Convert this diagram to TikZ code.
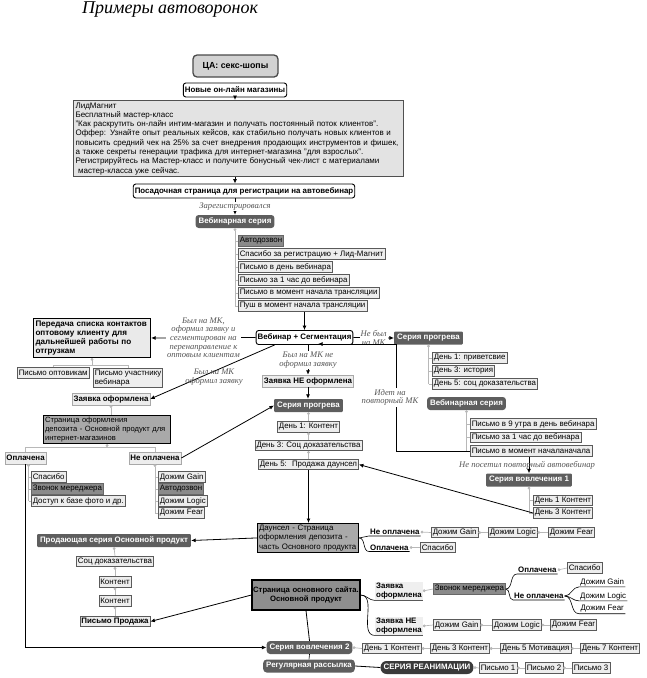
\documentclass[tikz,border=0pt]{standalone}
\usepackage{fontspec}
\setmainfont{Liberation Sans}
\newfontfamily\serifface{Liberation Serif}
\usetikzlibrary{arrows.meta, calc}
\usetikzlibrary{positioning}
\usepackage{xcolor}

\definecolor{darkfill}{HTML}{5E5E5E}
\definecolor{deepfill}{HTML}{3A3A3A}
\definecolor{callfill}{HTML}{8A8A8A}
\definecolor{itemfill}{HTML}{EDEDED}
\definecolor{itemline}{HTML}{5A5A5A}
\definecolor{tagline}{HTML}{A8A8A8}
\definecolor{tagfill}{HTML}{EFEFEF}
\definecolor{pagefill}{HTML}{A9A9A9}
\definecolor{sitefill}{HTML}{8E8E8E}
\definecolor{leadfill}{HTML}{E3E3E3}
\definecolor{leaddraw}{HTML}{505050}
\definecolor{transferfill}{HTML}{EAEAEA}
\definecolor{cafill}{HTML}{D2D2D2}
\definecolor{cadraw}{HTML}{4A4A4A}
\definecolor{linkgrey}{HTML}{B8B8B8}
\definecolor{labelgrey}{HTML}{555555}

\newcommand{\boxfont}{\fontsize{7.9}{9.3}\selectfont}
\newcommand{\edgefont}{\serifface\itshape\fontsize{8.6}{8.6}\selectfont}
\newcommand{\titlefont}{\serifface\itshape\fontsize{18}{20}\selectfont}

\begin{document}
\begin{tikzpicture}[x=1pt, y=-1pt,
    every node/.style={font=\boxfont, inner sep=1.5pt},
    rbox/.style={draw, rounded corners=2.5pt, line width=0.9pt, fill=white, font=\boxfont\bfseries, minimum height=14pt},
    series/.style={fill=darkfill, rounded corners=1pt, text=white, font=\boxfont\bfseries, minimum height=13pt, inner xsep=3pt},
    item/.style={draw=itemline, fill=itemfill, line width=0.55pt, minimum height=10.5pt, anchor=west},
    bolditem/.style={item, font=\boxfont\bfseries},
    call/.style={item, fill=callfill, draw=callfill!75!black},
    tag/.style={draw=tagline, fill=itemfill, line width=0.5pt, font=\boxfont\bfseries, minimum height=12pt},
    page/.style={draw, line width=1.1pt, fill=pagefill, align=left, inner sep=2pt},
    branch/.style={font=\boxfont\bfseries, anchor=west, inner sep=1pt},
    leaf/.style={anchor=west, inner sep=1pt},
    edgelbl/.style={font=\edgefont, text=labelgrey, align=center, fill=white, inner sep=1pt},
    arr/.style={-{Latex[length=4.5pt,width=4pt]}, line width=0.8pt},
    link/.style={draw=linkgrey, line width=0.7pt},
    dotlink/.style={link, {Circle[length=2.8pt]}-},
    curl/.style={line width=0.6pt}
]
\useasboundingbox (0,0) rectangle (646,678);

\node (title) at (170,10) {\titlefont Примеры автоворонок};

\node[draw=cadraw, fill=cafill, rounded corners=4pt, line width=1.3pt, minimum width=85pt, minimum height=22pt, font=\fontsize{8.8}{10}\selectfont\bfseries] (ca) at (235.5,66) {ЦА: секс-шопы};
\node[rbox] (shops) at (235,90) {Новые он-лайн магазины};
\node[page, fill=leadfill, draw=leaddraw, anchor=north west, text width=326pt, font=\fontsize{8}{9.3}\selectfont] (lead) at (73,100) {ЛидМагнит\\
Бесплатный мастер-класс\\
"Как раскрутить он-лайн интим-магазин и получать постоянный поток клиентов".\\
Оффер: Узнайте опыт реальных кейсов, как стабильно получать новых клиентов и\\
повысить средний чек на 25\% за счет внедрения продающих инструментов и фишек,\\
а также секреты генерации трафика для интернет-магазина "для взрослых".\\
Регистрируйтесь на Мастер-класс и получите бонусный чек-лист с материалами\\
\ мастер-класса уже сейчас.};
\node[rbox] (land) at (244,191) {Посадочная страница для регистрации на автовебинар};
\draw[arr] (shops.south) -- (shops.south |- lead.north);
\draw[arr] (shops.south |- lead.south) -- (shops.south |- land.north);

% webinar series
\node[series, rounded corners=3pt] (web1) at (235,221.5) {Вебинарная серия};
\draw[arr] (web1.north |- land.south) -- node[edgelbl] (regtxt) {Зарегистрировался} (web1.north);
\node[call] (autocall) at (238,241) {Автодозвон};
\node[item] (thanks) at (238,254) {Спасибо за регистрацию + Лид-Магнит};
\node[item] (dayof) at (238,267) {Письмо в день вебинара};
\node[item] (hourto) at (238,280) {Письмо за 1 час до вебинара};
\node[item] (start) at (238,293) {Письмо в момент начала трансляции};
\node[item] (push) at (238,306) {Пуш в момент начала трансляции};
\draw[dotlink] (web1.south) -- (web1.south |- push);
\foreach \n in {autocall,thanks,dayof,hourto,start,push}
  \draw[link] (web1.south |- \n.west) -- (\n.west);

\node[rbox] (vs) at (304.5,337.5) {Вебинар + Сегментация};
\draw[arr] (vs.north |- push.south) -- (vs.north);

% left branch
\node[page, fill=transferfill, anchor=north west, text width=113pt, font=\fontsize{8.1}{9.2}\selectfont\bfseries] (transfer) at (33,318) {Передача списка контактов\\оптовому клиенту для\\дальнейшей работы по\\отгрузкам};
\draw[arr] (vs.west) -- node[edgelbl] (wholesaletxt) {Был на МК,\\оформил заявку и\\сегментирован на\\перенаправление к\\оптовым клиентам} (transfer.east);
\node[item] (popt) at (17,373) {Письмо оптовикам};
\node[item, anchor=north west, align=left] (ppart) at (93,368) {Письмо участнику\\вебинара};
\draw[dotlink] (transfer.south) -- ++(0,7) coordinate (tj);
\draw[link] (popt.north) -- (popt.north |- tj) -- (ppart.north |- tj) -- (ppart.north);

\node[tag] (zo) at (111,399) {Заявка оформлена};
\draw[arr] (vs.194) -- (zo.east);
\node[edgelbl, fill=none] (ordertxt) at (214,377) {Был на МК\\оформил заявку};
\node[page, anchor=north west, text width=124pt, inner sep=1.5pt, font=\fontsize{7.6}{9}\selectfont] (dep) at (43,415) {Страница оформления\\депозита - Основной продукт для\\интернет-магазинов};
\draw[dotlink] (zo.south) -- (zo.south |- dep.north);

\node[tag] (paid) at (25.5,458) {Оплачена};
\node[tag] (unpaid) at (155,458) {Не оплачена};
\draw[dotlink] (dep.south) -- ++(0,3) coordinate (dj);
\draw[link] (paid.north) -- (paid.north |- dj) -- (unpaid.north |- dj) -- (unpaid.north);

\node[item] (thx1) at (31,477) {Спасибо};
\node[call] (mgr1) at (31,489) {Звонок мереджера};
\node[item] (access) at (31,501) {Доступ к базе фото и др.};
\coordinate (ps) at ($(paid.south)+(3,0)$);
\draw[dotlink] (ps) -- (ps |- access);
\foreach \n in {thx1,mgr1,access}
  \draw[link] (ps |- \n.west) -- (\n.west);

\node[item] (gain1) at (158,477) {Дожим Gain};
\node[call] (call2) at (158,489) {Автодозвон};
\node[item] (logic1) at (158,501) {Дожим Logic};
\node[item] (fear1) at (158,513) {Дожим Fear};
\draw[dotlink] (unpaid.south) -- (unpaid.south |- fear1);
\foreach \n in {gain1,call2,logic1,fear1}
  \draw[link] (unpaid.south |- \n.west) -- (\n.west);

% middle branch
\node[tag] (zno) at (308,381) {Заявка НЕ оформлена};
\draw[arr] (zno.north |- vs.south) -- node[edgelbl] (nolbl) {Был на МК не\\оформил заявку} (zno.north);
\node[series] (warm1) at (308.5,405.5) {Серия прогрева};
\draw[arr] (zno.south) -- (zno.south |- warm1.north);
\draw[arr] (unpaid.east) -- (warm1.west);
\node[item, anchor=center] (wd1) at (308.5,427) {День 1: Контент};
\node[item, anchor=center] (wd3) at (308.5,445.5) {День 3: Соц доказательства};
\node[item, anchor=center] (wd5) at (308.5,464.5) {День 5:~ Продажа даунсел};
\draw[dotlink] (warm1.south) -- (wd1.north);
\draw[dotlink] (wd1.south) -- (wd3.north);
\draw[dotlink] (wd3.south) -- (wd5.north);

\node[page, anchor=north west, text width=98pt, inner sep=1.5pt] (ds) at (257,523) {Даунсел - Страница\\оформления депозита -\\часть Основного продукта};
\draw[arr, line width=1pt] (wd5.south) -- (wd5.south |- ds.north);
\node[branch] (dsno) at (369,532) {Не оплачена};
\node[branch] (dsyes) at (369,547.5) {Оплачена};
\draw[curl] (ds.east) to[out=0,in=180] (dsno.south west) -- (dsno.south east);
\draw[curl] (ds.east) to[out=0,in=180] (dsyes.south west) -- (dsyes.south east);
\node[item] (gain2) at (431,532.5) {Дожим Gain};
\node[item] (logic2) at (488,532.5) {Дожим Logic};
\node[item] (fear2) at (548,532.5) {Дожим Fear};
\node[item] (thx2) at (420,547.5) {Спасибо};
\draw[dotlink] (dsno.east) -- (gain2.west);
\draw[dotlink] (gain2.east) -- (logic2.west);
\draw[dotlink] (logic2.east) -- (fear2.west);
\draw[dotlink] (dsyes.east) -- (thx2.west);

% right branch
\node[series] (warm2) at (428.5,338) {Серия прогрева};
\draw[arr] (vs.east) -- node[edgelbl] (nomk) {Не был\\на МК} (warm2.west);
\node[item] (hello) at (432,358) {День 1: приветсвие};
\node[item] (story) at (432,371) {День 3: история};
\node[item] (proof1) at (432,384) {День 5: соц доказательства};
\draw[dotlink] (warm2.south) -- (warm2.south |- proof1);
\foreach \n in {hello,story,proof1}
  \draw[link] (warm2.south |- \n.west) -- (\n.west);

\node[series, rounded corners=3pt] (web2) at (466.5,403.5) {Вебинарная серия};
\node[item] (morning) at (470,424) {Письмо в 9 утра в день вебинара};
\node[item] (hourto2) at (470,437.5) {Письмо за 1 час до вебинара};
\node[item] (start2) at (470,451) {Письмо в момент началаначала};
\draw[dotlink] (web2.south) -- (web2.south |- start2);
\foreach \n in {morning,hourto2,start2}
  \draw[link] (web2.south |- \n.west) -- (\n.west);
\coordinate (loopturn) at (396,344);
\coordinate (loopend) at (318,344);
\draw[arr] (start2.west) -| (loopturn) -- (loopend);
\node[edgelbl] (againlbl) at (390,397.5) {Идет на\\повторный МК};

\node[series] (eng1) at (529,480) {Серия вовлечения 1};
\draw[arr] (eng1.north |- start2.south) -- (eng1.north);
\node[edgelbl, fill=none] (missedlbl) at (527,465) {Не посетил повторный автовебинар};
\node[item] (ec1) at (533,500.5) {День 1 Контент};
\node[item] (ec3) at (533,513) {День 3 Контент};
\draw[dotlink] (eng1.south) -- (eng1.south |- ec3);
\foreach \n in {ec1,ec3}
  \draw[link] (eng1.south |- \n.west) -- (\n.west);
\draw[arr] (ec3.west) -- (wd5.east);

% selling series
\node[series] (sell) at (114,540.5) {Продающая серия Основной продукт};
\draw[arr] (ds.west) -- (sell.east);
\node[item, anchor=center] (proof2) at (115,561.5) {Соц доказательства};
\node[item, anchor=center] (cont1) at (115,582) {Контент};
\node[item, anchor=center] (cont2) at (115,601) {Контент};
\node[bolditem, anchor=center] (salemail) at (115,621.5) {Письмо Продажа};
\draw[dotlink] (sell.south) -- (proof2.north);
\draw[dotlink] (proof2.south) -- (cont1.north);
\draw[dotlink] (cont1.south) -- (cont2.north);
\draw[dotlink] (cont2.south) -- (salemail.north);

\node[page, fill=sitefill, text width=106pt, align=center, minimum height=30pt, inner sep=1pt, font=\fontsize{7.7}{9.3}\selectfont\bfseries] (site) at (306,595) {Страница основного сайта.\\Основной продукт};
\draw[arr] (site.west) -- (salemail.east);

\node[branch, fill=tagfill, align=left] (zyes) at (375,591) {Заявка\\оформлена};
\node[branch, fill=tagfill, align=left] (zno2) at (375,626) {Заявка НЕ\\оформлена};
\draw[curl] (site.east) to[out=0,in=180] (zyes.south west) -- (zyes.south east);
\draw[curl] (site.east) to[out=0,in=180] (zno2.south west) -- (zno2.south east);
\node[call] (mgr2) at (433,589) {Звонок мереджера};
\draw[dotlink] (zyes.east) -- (mgr2.west);
\node[branch] (opl) at (517,570) {Оплачена};
\node[branch] (nopl) at (513,596) {Не оплачена};
\draw[curl] (mgr2.east) to[out=0,in=180] (opl.south west) -- (opl.south east);
\draw[curl] (mgr2.east) to[out=0,in=180] (nopl.south west) -- (nopl.south east);
\node[item] (thx3) at (567,568) {Спасибо};
\draw[dotlink] (opl.east) -- (thx3.west);
\node[leaf, minimum width=46pt, align=left] (gain3) at (579,582) {Дожим Gain};
\node[leaf, minimum width=46pt, align=left] (logic3) at (579,596) {Дожим Logic};
\node[leaf, minimum width=46pt, align=left] (fear3) at (579,609) {Дожим Fear};
\foreach \n in {gain3,logic3,fear3}
  \draw[curl] (nopl.east) to[out=0,in=180] (\n.south west) -- (\n.south east);
\node[item] (gain4) at (433,625) {Дожим Gain};
\node[item] (logic4) at (492,625) {Дожим Logic};
\node[item] (fear4) at (550,625) {Дожим Fear};
\draw[dotlink] (zno2.east) -- (gain4.west);
\draw[dotlink] (gain4.east) -- (logic4.west);
\draw[dotlink] (logic4.east) -- (fear4.west);

% bottom rows
\node[series, rounded corners=3.5pt] (eng2) at (309.5,647.5) {Серия вовлечения 2};
\node[series, rounded corners=3.5pt] (news) at (309,666) {Регулярная рассылка};
\node[series, fill=deepfill, rounded corners=6pt] (revive) at (427,667.5) {СЕРИЯ РЕАНИМАЦИИ};
\node[item] (e1) at (362,648.5) {День 1 Контент};
\node[item] (e3) at (430,648.5) {День 3 Контент};
\node[item] (e5) at (500,648.5) {День 5 Мотивация};
\node[item] (e7) at (580,648.5) {День 7 Контент};
\draw[dotlink] (eng2.east) -- (e1.west);
\draw[dotlink] (e1.east) -- (e3.west);
\draw[dotlink] (e3.east) -- (e5.west);
\draw[dotlink] (e5.east) -- (e7.west);
\node[item] (r1) at (479,668) {Письмо 1};
\node[item] (r2) at (525,668) {Письмо 2};
\node[item] (r3) at (572,668) {Письмо 3};
\draw[dotlink] (revive.east) -- (r1.west);
\draw[dotlink] (r1.east) -- (r2.west);
\draw[dotlink] (r2.east) -- (r3.west);

\draw[line width=0.8pt] (site.south) -- (eng2.north);
\draw[line width=0.6pt] (eng2.south) -- (news.north);
\draw[line width=0.8pt] (news.east) -- (revive.west);
\draw[arr] (paid.south) |- (eng2.west);
\end{tikzpicture}
\end{document}
